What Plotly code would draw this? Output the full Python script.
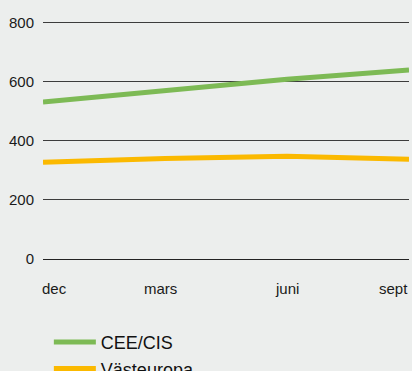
import plotly.graph_objects as go

months = ["dec", "mars", "juni", "sept"]
cee_cis = [532, 569, 609, 641]
vasteuropa = [328, 341, 348, 338]
y_ticks = [0, 200, 400, 600, 800]

BG = "#eceeed"
FONT = "Liberation Sans, Arial, Helvetica, sans-serif"

x_idx = list(range(len(months)))
n = len(months)

fig = go.Figure()
fig.add_trace(go.Scatter(x=x_idx, y=cee_cis, mode="lines", name="CEE/CIS",
                         line=dict(color="#7dba55", width=5)))
fig.add_trace(go.Scatter(x=x_idx, y=vasteuropa, mode="lines", name="Västeuropa",
                         line=dict(color="#fbb900", width=5)))

anchors = ["left"] + ["center"] * (n - 2) + ["right"]
for i, (m, a) in enumerate(zip(months, anchors)):
    px = i / (n - 1)
    if a == "left":
        px -= 0.008
    elif a == "right":
        px += 0.003
    elif i == 1:
        px -= 0.012
    fig.add_annotation(x=px, y=-0.125, xref="paper", yref="paper", text=m,
                       showarrow=False, xanchor=a, yanchor="middle",
                       font=dict(family=FONT, size=15, color="#1a1a1a"))

fig.update_layout(
    width=412, height=371,
    margin=dict(l=43, r=3, t=20, b=112, autoexpand=False),
    paper_bgcolor=BG, plot_bgcolor=BG,
    font=dict(family=FONT, size=15, color="#1a1a1a"),
    showlegend=True,
    legend=dict(x=0.016, y=-0.2716, xanchor="left", yanchor="top",
                font=dict(family=FONT, size=18, color="#111111"),
                bgcolor="rgba(0,0,0,0)", itemwidth=42, tracegroupgap=0),
    xaxis=dict(range=[0, n - 1], showgrid=False, zeroline=False,
               showticklabels=False, fixedrange=True),
    yaxis=dict(range=[0, 810], tickvals=y_ticks, showgrid=True,
               gridcolor="#3c3c3c", gridwidth=1, zeroline=True,
               zerolinecolor="#222222", zerolinewidth=1,
               ticklabelstandoff=8, fixedrange=True,
               tickfont=dict(family=FONT, size=15, color="#1a1a1a")),
)

fig.write_html("out.html")
